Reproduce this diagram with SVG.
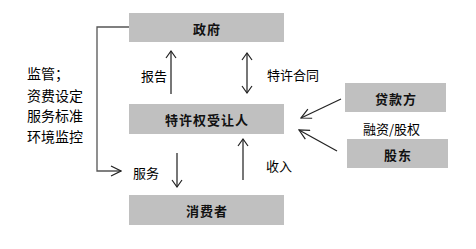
<svg xmlns="http://www.w3.org/2000/svg" width="476" height="249" viewBox="0 0 476 249">
<style>
.box{fill:#c0c0c0}
.lbl{font-family:"Noto Sans CJK SC","Liberation Sans",sans-serif;font-size:13px;font-weight:bold;fill:#111;text-anchor:middle;dominant-baseline:central;letter-spacing:1px}
.txt{font-family:"Noto Sans CJK SC","Liberation Sans",sans-serif;font-size:13px;fill:#000;dominant-baseline:central}
.side{font-size:14px}
.g{stroke:#777;stroke-width:2;fill:none}
.k{stroke:#222;stroke-width:1.2;fill:none}
.b{stroke:#555;stroke-width:1.3;fill:none}
</style>
<defs>
<marker id="ak" viewBox="0 0 12 12" refX="11" refY="6" markerWidth="12" markerHeight="12" orient="auto" markerUnits="userSpaceOnUse">
<path d="M1,1 L11,6 L1,11" fill="none" stroke="#222" stroke-width="1.2"/>
</marker>
</defs>
<g id="connectors">
<path class="b" d="M129,27 H97 V171 H121" marker-end="url(#ak)"/>
<line class="g" x1="171" y1="94" x2="171" y2="51"/>
<line class="g" x1="247" y1="53" x2="247" y2="93"/>
<line class="g" x1="177" y1="153" x2="177" y2="187"/>
<line class="g" x1="243" y1="180" x2="243" y2="139"/>
<path class="k" d="M166,58 L171,51 L176,58"/>
<path class="k" d="M242,60 L247,53 L252,60"/>
<path class="k" d="M242,86 L247,93 L252,86"/>
<path class="k" d="M172,180 L177,187 L182,180"/>
<path class="k" d="M238,146 L243,139 L248,146"/>
<line class="k" x1="341" y1="99" x2="301" y2="118" marker-end="url(#ak)"/>
<line class="k" x1="337" y1="151" x2="299" y2="130" marker-end="url(#ak)"/>
</g>
<g id="zhengfu"><rect class="box" x="129" y="13" width="155" height="29"/><text class="lbl" x="207" y="28">政府</text></g>
<g id="texuquan"><rect class="box" x="129" y="104" width="155" height="30"/><text class="lbl" x="207" y="119">特许权受让人</text></g>
<g id="xiaofeizhe"><rect class="box" x="129" y="195" width="155" height="30"/><text class="lbl" x="207" y="210">消费者</text></g>
<g id="daikuanfang"><rect class="box" x="345" y="83" width="101" height="29"/><text class="lbl" x="396" y="98">贷款方</text></g>
<g id="gudong"><rect class="box" x="347" y="139" width="101" height="29"/><text class="lbl" x="398" y="154">股东</text></g>
<g id="labels">
<text class="txt" x="141" y="75">报告</text>
<text class="txt" x="267" y="74">特许合同</text>
<text class="txt" x="363" y="128">融资/股权</text>
<text class="txt" x="133" y="172">服务</text>
<text class="txt" x="266" y="165">收入</text>
<text class="txt side" x="27" y="73">监管；</text>
<text class="txt side" x="27" y="95">资费设定</text>
<text class="txt side" x="27" y="115">服务标准</text>
<text class="txt side" x="27" y="136">环境监控</text>
</g>
</svg>
